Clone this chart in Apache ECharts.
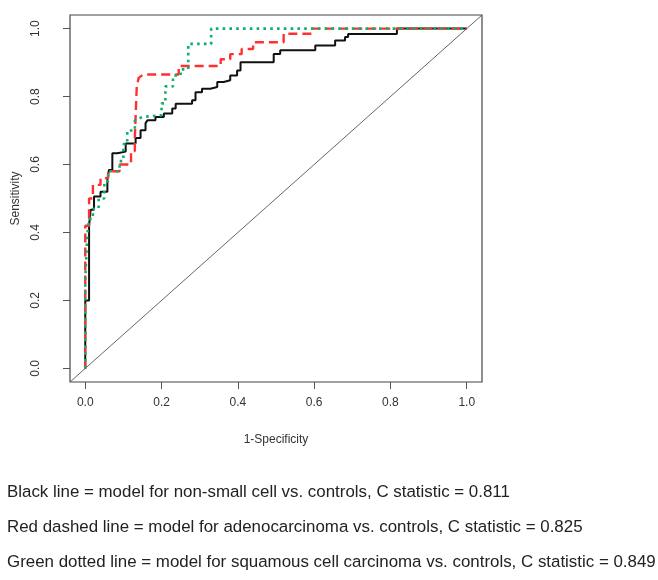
<!DOCTYPE html>
<html>
<head>
<meta charset="utf-8">
<script src="https://cdn.jsdelivr.net/npm/echarts@6/dist/echarts.min.js"></script>
<style>
  html, body { margin: 0; padding: 0; background: #fff; }
  #chart { width: 658px; height: 580px; }
</style>
</head>
<body>
<div id="chart"></div>
<script>
// ROC curves: [1 - specificity, sensitivity] pairs for each model
const blackRoc = [
  [0,0],[0,0.2],[0.01,0.2],[0.01,0.42],[0.014,0.42],[0.014,0.467],[0.023,0.467],[0.023,0.506],
  [0.04,0.506],[0.04,0.52],[0.058,0.52],[0.058,0.555],[0.062,0.555],[0.062,0.584],[0.071,0.584],
  [0.071,0.633],[0.084,0.633],[0.084,0.638],[0.106,0.638],[0.106,0.662],[0.132,0.662],[0.132,0.678],
  [0.145,0.678],[0.145,0.701],[0.158,0.701],[0.158,0.722],[0.163,0.722],[0.163,0.73],[0.184,0.73],
  [0.184,0.74],[0.206,0.74],[0.206,0.75],[0.228,0.75],[0.228,0.765],[0.237,0.765],[0.237,0.779],
  [0.28,0.779],[0.28,0.789],[0.289,0.789],[0.289,0.813],[0.306,0.813],[0.306,0.823],[0.328,0.823],
  [0.328,0.828],[0.346,0.828],[0.346,0.843],[0.363,0.843],[0.363,0.848],[0.38,0.848],[0.38,0.862],
  [0.398,0.862],[0.398,0.877],[0.407,0.877],[0.407,0.901],[0.494,0.901],[0.494,0.925],[0.511,0.925],
  [0.511,0.936],[0.603,0.936],[0.603,0.95],[0.655,0.95],[0.655,0.965],[0.681,0.965],[0.681,0.975],
  [0.689,0.975],[0.689,0.984],[0.817,0.984],[0.817,1],[1,1]
];
const redRoc = [
  [0,0],[0,0.42],[0.01,0.42],[0.01,0.5],[0.02,0.5],[0.02,0.54],[0.04,0.54],[0.04,0.56],
  [0.06,0.56],[0.06,0.58],[0.09,0.58],[0.09,0.6],[0.12,0.6],[0.12,0.64],[0.13,0.64],[0.13,0.68],
  [0.135,0.68],[0.135,0.83],[0.14,0.855],[0.152,0.865],[0.245,0.865],[0.245,0.89],[0.355,0.89],
  [0.355,0.91],[0.38,0.91],[0.38,0.925],[0.41,0.925],[0.41,0.94],[0.44,0.94],[0.44,0.96],
  [0.52,0.96],[0.52,0.985],[0.595,0.985],[0.595,1],[1,1]
];
const greenRoc = [
  [0,0],[0,0.26],[0.005,0.26],[0.005,0.39],[0.01,0.39],[0.01,0.44],[0.02,0.44],[0.02,0.47],
  [0.035,0.47],[0.035,0.5],[0.05,0.5],[0.05,0.55],[0.06,0.55],[0.06,0.58],[0.09,0.58],[0.09,0.61],
  [0.1,0.61],[0.1,0.66],[0.11,0.66],[0.11,0.7],[0.13,0.7],[0.13,0.73],[0.15,0.74],[0.2,0.745],
  [0.2,0.78],[0.21,0.78],[0.21,0.83],[0.23,0.83],[0.23,0.862],[0.25,0.862],[0.25,0.88],[0.27,0.88],
  [0.27,0.955],[0.33,0.955],[0.33,1],[1,1]
];
const tickValues = [0, 0.2, 0.4, 0.6, 0.8, 1.0];
const axisMin = -0.04, axisMax = 1.04;
const captions = [
  'Black line = model for non-small cell vs. controls, C statistic = 0.811',
  'Red dashed line = model for adenocarcinoma vs. controls, C statistic = 0.825',
  'Green dotted line = model for squamous cell carcinoma vs. controls, C statistic = 0.849'
];

const font = 'Liberation Sans, Arial, sans-serif';
const chart = echarts.init(document.getElementById('chart'), null, { renderer: 'canvas' });

function axisCommon(name, isY) {
  return {
    type: 'value',
    min: axisMin,
    max: axisMax,
    name: name,
    nameLocation: 'middle',
    nameGap: isY ? 48 : 52,
    nameTextStyle: { fontFamily: font, fontSize: 12, color: '#333' },
    splitLine: { show: false },
    axisLine: { show: false, onZero: false },
    axisTick: {
      show: true, inside: false, length: 7,
      customValues: tickValues,
      lineStyle: { color: '#555', width: 1 }
    },
    axisLabel: {
      customValues: tickValues,
      formatter: v => v.toFixed(1),
      fontFamily: font, fontSize: 12, color: '#333',
      margin: isY ? 28 : 15,
      rotate: isY ? 90 : 0
    }
  };
}

const option = {
  backgroundColor: '#fff',
  animation: false,
  grid: {
    left: 70, top: 15, width: 412, height: 367,
    show: true, borderColor: '#444', borderWidth: 1.2, backgroundColor: 'transparent'
  },
  xAxis: axisCommon('1-Specificity', false),
  yAxis: axisCommon('Sensitivity', true),
  series: [
    {
      type: 'line', data: [[axisMin, axisMin], [axisMax, axisMax]],
      showSymbol: false, silent: true,
      lineStyle: { color: '#666', width: 1 }
    },
    {
      type: 'line', data: blackRoc, showSymbol: false,
      lineStyle: { color: '#111', width: 2 }
    },
    {
      type: 'line', data: redRoc, showSymbol: false,
      lineStyle: { color: '#ff3030', width: 2.4, type: [9, 5] }
    },
    {
      type: 'line', data: greenRoc, showSymbol: false,
      lineStyle: { color: '#10b06c', width: 2.6, type: [2.6, 4.2] }
    }
  ],
  graphic: captions.map((t, i) => ({
    type: 'text',
    left: 7,
    top: 484 + i * 35,
    style: { text: t, font: '16.9px ' + font, fill: '#222' }
  }))
};
chart.setOption(option);
</script>
</body>
</html>
